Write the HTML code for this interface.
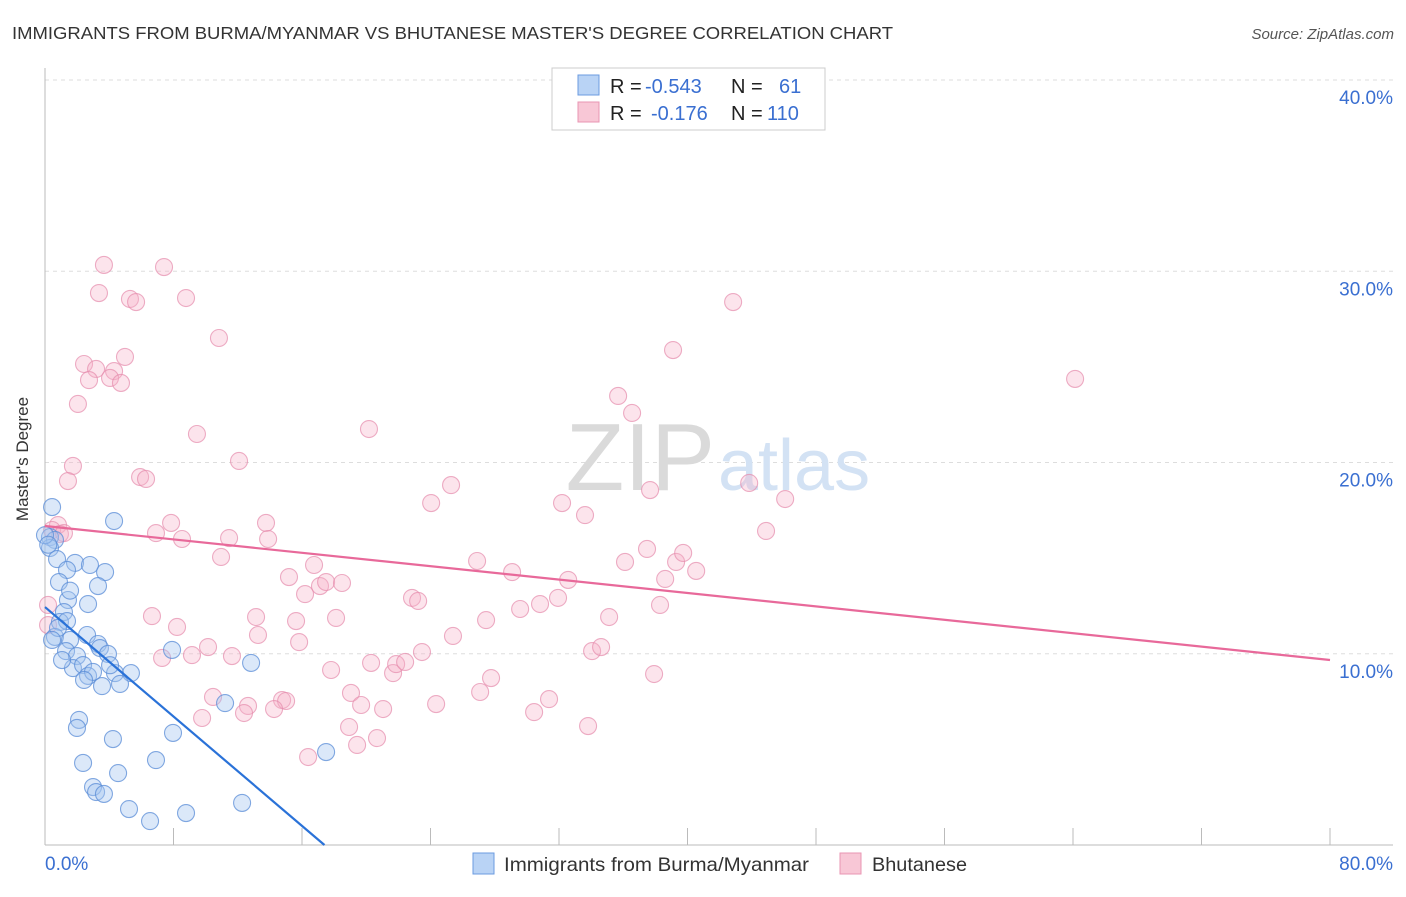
<!DOCTYPE html>
<html><head><meta charset="utf-8"><style>
body{margin:0;background:#fff;font-family:"Liberation Sans",sans-serif}
svg text{font-family:"Liberation Sans",sans-serif}
</style></head><body>
<svg width="1406" height="892" viewBox="0 0 1406 892" xmlns="http://www.w3.org/2000/svg">
<text x="12" y="39" font-size="17.5" fill="#333" textLength="881" lengthAdjust="spacingAndGlyphs">IMMIGRANTS FROM BURMA/MYANMAR VS BHUTANESE MASTER'S DEGREE CORRELATION CHART</text>
<text x="1394" y="39" font-size="15" fill="#555" font-style="italic" text-anchor="end">Source: ZipAtlas.com</text>
<g id="grid"></g>
<text x="715" y="490" font-size="96" fill="#dadada" text-anchor="end" font-family="Liberation Serif">ZIP</text>
<text x="718" y="490" font-size="72" fill="#d3e2f4">atlas</text>
<g id="axes"></g>
<g id="marks"></g>
<text x="24" y="455" font-size="17" fill="#333" text-anchor="middle" transform="rotate(-90 28 455)">Master's Degree</text>
<g>
<rect x="552" y="68" width="273" height="62" fill="#fff" stroke="#ccc"/>
<rect x="578" y="75" width="21" height="20" fill="#b9d3f5" stroke="#6b9be0"/>
<rect x="578" y="102" width="21" height="20" fill="#f8c7d6" stroke="#e995b3"/>
<text x="610" y="93" font-size="20" fill="#222">R = <tspan x="645" fill="#3a6fd1">-0.543</tspan><tspan x="731">N = </tspan><tspan x="779" fill="#3a6fd1">61</tspan></text>
<text x="610" y="120" font-size="20" fill="#222">R = <tspan x="651" fill="#3a6fd1">-0.176</tspan><tspan x="731">N = </tspan><tspan x="767" fill="#3a6fd1">110</tspan></text>
</g>
<g>
<rect x="473" y="853" width="21" height="21" fill="#b9d3f5" stroke="#6b9be0"/>
<text x="504" y="871" font-size="19.5" fill="#333" textLength="305" lengthAdjust="spacingAndGlyphs">Immigrants from Burma/Myanmar</text>
<rect x="840" y="853" width="21" height="21" fill="#f8c7d6" stroke="#e995b3"/>
<text x="872" y="871" font-size="19.5" fill="#333" textLength="95" lengthAdjust="spacingAndGlyphs">Bhutanese</text>
</g>
</svg>
<script>
const blueX=[0.44,4.30,0.31,0.62,0.31,0.75,1.87,2.80,3.74,1.37,0.87,3.30,2.68,1.43,1.18,0.93,1.37,0.62,1.56,2.62,3.30,3.42,3.92,7.91,1.31,1.99,1.74,2.37,2.68,2.99,4.36,5.35,2.43,3.55,4.67,12.83,11.21,7.97,2.12,1.99,4.23,2.37,4.55,6.91,2.99,3.18,3.67,5.23,6.54,8.78,12.27,17.50,0.81,0.44,0.0,0.2,1.56,4.05,1.06];
const blueY=[17.67,16.94,16.10,15.95,15.53,14.95,14.75,14.64,14.27,14.38,13.75,13.54,12.60,12.81,12.18,11.66,11.71,10.88,10.72,10.98,10.51,10.30,9.99,10.20,10.14,9.88,9.25,9.41,8.84,9.05,8.99,8.99,8.63,8.31,8.42,9.52,7.42,5.86,6.54,6.12,5.54,4.29,3.76,4.44,3.03,2.77,2.67,1.88,1.25,1.67,2.20,4.86,11.35,10.72,16.2,15.7,13.3,9.4,9.67];
const pinkX=[3.67,7.41,3.36,5.29,5.67,8.78,10.83,2.43,4.98,3.18,4.30,2.74,4.05,4.73,2.05,9.46,1.74,12.08,1.43,5.92,6.29,0.81,0.44,0.93,1.18,7.85,6.91,8.53,11.46,13.76,13.89,10.96,16.75,15.19,16.19,17.12,17.50,18.49,15.63,18.12,13.14,13.26,15.82,6.66,8.22,10.15,9.15,7.29,11.64,17.81,20.30,19.05,19.68,18.93,19.43,20.67,21.05,16.38,14.76,15.01,14.26,12.64,12.39,10.46,9.78,0.19,0.19,20.17,24.04,25.28,22.85,23.23,23.47,21.67,21.86,22.42,25.40,24.35,26.90,27.09,27.77,27.46,29.08,29.58,30.82,31.94,32.19,32.57,33.62,34.06,34.62,35.12,30.45,31.38,33.81,35.68,36.55,37.48,36.11,37.67,38.61,38.29,39.10,39.29,39.73,40.54,37.92,42.84,43.84,44.89,46.08,64.13];
const pinkY=[30.33,30.22,28.86,28.55,28.39,28.60,26.51,25.15,25.52,24.89,24.78,24.31,24.42,24.16,23.06,21.49,19.82,20.08,19.03,19.24,19.14,16.73,16.47,16.26,16.31,16.84,16.31,16.00,16.05,16.84,16.00,15.06,14.64,14.01,13.12,13.54,13.75,13.70,11.71,11.87,11.92,10.98,10.61,11.97,11.40,10.35,9.93,9.78,9.88,9.15,9.52,7.95,7.32,6.17,5.23,5.59,7.11,4.60,7.58,7.53,7.11,7.27,6.90,7.74,6.64,11.50,12.55,21.75,17.88,18.82,12.92,12.76,10.09,8.99,9.46,9.57,10.93,7.37,14.85,8.00,8.73,11.76,14.27,12.34,12.60,12.92,17.88,13.86,17.25,10.14,10.35,11.92,6.95,7.63,6.22,23.48,22.59,15.48,14.80,18.56,13.91,12.55,25.88,14.80,15.27,14.33,8.94,28.39,18.93,16.42,18.09,24.37];
const blueTrend=[12.44,-0.715];
const pinkTrend=[16.68,-0.0876];
const yTicks=[10,20,30,40];
const yTickLabels=["10.0%","20.0%","30.0%","40.0%"];
const xTicks=[0,8,16,24,32,40,48,56,64,72,80];

const NS="http://www.w3.org/2000/svg";
const X0=45,X1=1330,Y0=845,Y40=80;
const sx=v=>X0+(v/80)*(X1-X0);
const sy=v=>Y0-(v/40)*(Y0-Y40);
function mk(tag,attrs,parent){const e=document.createElementNS(NS,tag);for(const k in attrs)e.setAttribute(k,attrs[k]);parent.appendChild(e);return e;}
const grid=document.getElementById('grid'),axes=document.getElementById('axes'),marks=document.getElementById('marks');
yTicks.forEach((t,i)=>{
  const l=mk('line',{x1:45,x2:1393,y1:sy(t),y2:sy(t),stroke:'#ddd','stroke-dasharray':'4,4'},grid);
  
  
  const tx=mk('text',{x:1393,y:sy(t)+24,'font-size':19,fill:'#3a6fd1','text-anchor':'end'},grid);
  tx.textContent=yTickLabels[i];
  
  
});
let a=mk('line',{x1:45,x2:45,y1:68,y2:845,stroke:'#bbb'},axes);


a=mk('line',{x1:45,x2:1393,y1:845,y2:845,stroke:'#bbb'},axes);


xTicks.forEach(t=>{
  const l=mk('line',{x1:sx(t),x2:sx(t),y1:828,y2:845,stroke:'#bbb'},axes);
  
  
});
let t0=mk('text',{x:45,y:870,'font-size':19,fill:'#3a6fd1'},axes);t0.textContent='0.0%';


let t1=mk('text',{x:1393,y:870,'font-size':19,fill:'#3a6fd1','text-anchor':'end'},axes);t1.textContent='80.0%';


function pts(xs,ys,fill,stroke,name){xs.forEach((x,i)=>{
  const c=mk('circle',{cx:sx(x),cy:sy(ys[i]),r:8.5,fill:fill,stroke:stroke,'stroke-width':1.1},marks);
  
  
});}
pts(pinkX,pinkY,'rgba(246,178,200,0.35)','rgba(230,140,172,0.7)','bhutanese-point');
pts(blueX,blueY,'rgba(165,198,240,0.4)','rgba(90,140,215,0.75)','burma-point');
const bEnd=-blueTrend[0]/blueTrend[1];
let bl=mk('line',{x1:sx(0),y1:sy(blueTrend[0]),x2:sx(bEnd),y2:sy(0),stroke:'#2a72d8','stroke-width':2.2},marks);


let pl=mk('line',{x1:sx(0),y1:sy(pinkTrend[0]),x2:sx(80),y2:sy(pinkTrend[0]+pinkTrend[1]*80),stroke:'#e8699a','stroke-width':2.2},marks);


</script>
</body></html>
